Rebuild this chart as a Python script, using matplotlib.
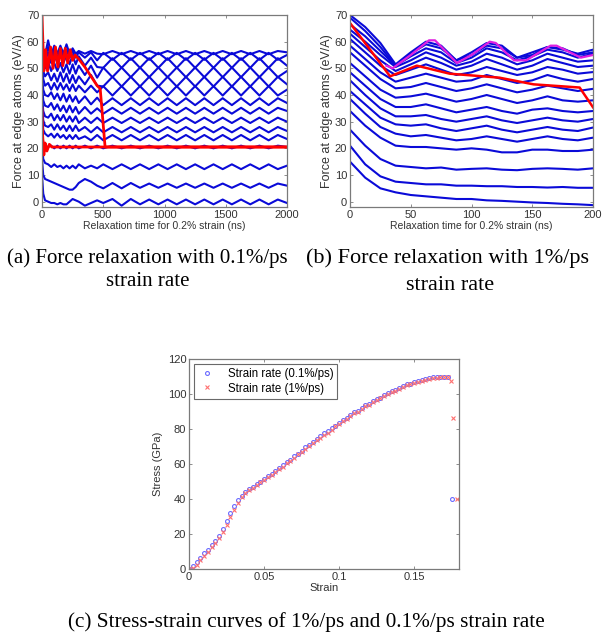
import matplotlib
matplotlib.use("Agg")
import matplotlib.pyplot as plt

# ---------------------------------------------------------------
# (a) force relaxation, 0.1%/ps  -- time in ns
# ---------------------------------------------------------------
t_a = [0, 10, 25, 50, 75, 100, 125, 150, 175, 200, 225, 250, 275, 300, 350, 400, 450,
       500, 575, 650, 725, 800, 875, 950, 1025, 1100, 1175, 1250, 1325, 1400, 1475,
       1550, 1625, 1700, 1775, 1850, 1925, 2000]

a_00 = [10, 3, 0.5, 0, -0.5, -0.5, -1, -0.5, -1, -1, 0, 1, 0.5, 0, -1.5, -0.5, 0.5,
        -0.5, 1, -1.5, 1, -1, 0.8, -1, 0.8, -1, 0.8, -1, 0.8, -1, 0.8, -1, 0.8, -1, 0.8, -1, 0.8, -0.5]
a_06 = [16, 10, 8.5, 8, 7.5, 7, 6.5, 6, 5.5, 5, 4.5, 4.5, 5.5, 7, 8.5, 7.5, 6,
        5, 7, 5, 7, 5.2, 6.8, 5.2, 6.8, 5.2, 6.8, 5.2, 6.8, 5.2, 6.8, 5.2, 6.8, 5.2, 6.8, 5.2, 6.8, 6]
a_13 = [22, 16, 14.5, 14, 13, 14, 13, 13.5, 12.5, 13.5, 12.5, 13.5, 12.5, 14, 12.5, 13.5, 12.5,
        14, 12.2, 14, 12.2, 14, 12.2, 14, 12.2, 14, 12.2, 14, 12.2, 14, 12.2, 14, 12.2, 14, 12.2, 14, 12.2, 13.5]
a_20 = [28, 22, 21, 20.5, 21, 20, 21, 20, 21, 20, 21, 20, 21, 20, 21, 20, 21,
        20, 21, 20, 21, 20, 21, 20, 21, 20, 21, 20, 21, 20, 21, 20, 21, 20, 21, 20, 21, 20.5]
a_24 = [33, 27, 25.5, 24.5, 25.5, 24, 25.5, 24, 25, 23.5, 25, 23.5, 25, 23.5, 24.5, 23, 25,
        23, 25, 23, 25, 23, 25, 23, 25, 23, 25, 23, 25, 23, 25, 23, 25, 23, 25, 23, 25, 23.5]
a_27 = [37, 30.5, 28.5, 28, 29, 27, 29, 27, 28.5, 26.5, 28.5, 26.5, 28.5, 26.5, 28, 26, 28,
        26, 28, 26, 28, 26, 28, 26, 28, 26, 28, 26, 28, 26, 28, 26, 28, 26, 28, 26, 28, 26.5]
a_30 = [40, 34, 32, 31.5, 33, 30.5, 32.5, 30.5, 32.5, 30, 32, 30, 32, 29.5, 31.5, 29.5, 31.5,
        29.5, 31.5, 29.5, 31.5, 29.5, 31.5, 29.5, 31.5, 29.5, 31.5, 29.5, 31.5, 29.5, 31.5,
        29.5, 31.5, 29.5, 31.5, 29.5, 31.5, 30]
a_34 = [44, 38, 36, 35.5, 37, 34.5, 36.5, 34, 36, 33.5, 36, 33.5, 35.5, 33, 35.5, 33, 35,
        33, 35.2, 33, 35.2, 33, 35.2, 33, 35.2, 33, 35.2, 33, 35.2, 33, 35.2, 33, 35.2, 33, 35.2, 33, 35.2, 34]
a_37 = [47, 42, 40, 39.5, 41, 38.5, 40.5, 38, 40.5, 37.5, 40, 37.5, 39.5, 37, 39.5, 36.5, 39,
        36.2, 38.8, 36.2, 38.8, 36.2, 38.8, 36.2, 38.8, 36.2, 38.8, 36.2, 38.8, 36.2, 38.8,
        36.2, 38.8, 36.2, 38.8, 36.2, 38.8, 37]
a_41 = [51, 46, 43.5, 44.5, 42, 44.5, 42, 44.5, 42, 44, 41.5, 44, 41.5, 43.5, 41, 43.5, 41,
        43.3, 39.8, 43.3, 39.8, 43.3, 39.8, 43.3, 39.8, 43.3, 39.8, 43.3, 39.8, 43.3, 39.8,
        43.3, 39.8, 43.3, 39.8, 43.3, 39.8, 42]
a_45 = [53, 49, 47, 48.5, 45.5, 48, 45, 48.5, 45, 48, 44.5, 47.5, 44.5, 47, 44, 47.5, 43.5,
        43.2, 46.8, 43.2, 46.8, 43.2, 46.8, 43.2, 46.8, 43.2, 46.8, 43.2, 46.8, 43.2, 46.8,
        43.2, 46.8, 43.2, 46.8, 43.2, 46.8, 44]
a_48 = [54, 52, 50, 52.5, 49, 52, 49, 52, 48.5, 51.5, 48, 51.5, 48, 51, 47.5, 51, 46.5,
        50.3, 46.7, 50.3, 46.7, 50.3, 46.7, 50.3, 46.7, 50.3, 46.7, 50.3, 46.7, 50.3, 46.7,
        50.3, 46.7, 50.3, 46.7, 50.3, 46.7, 49]
a_52 = [55, 54, 52.5, 56, 52, 55.5, 52, 55.5, 52, 55, 51.5, 55, 51.5, 54.5, 51, 54, 50.5,
        50.2, 53.8, 50.2, 53.8, 50.2, 53.8, 50.2, 53.8, 50.2, 53.8, 50.2, 53.8, 50.2, 53.8,
        50.2, 53.8, 50.2, 53.8, 50.2, 53.8, 51]
a_54 = [56, 55, 54, 58, 53.5, 57, 54, 57, 54, 57, 54, 56.5, 54, 56, 54, 56, 53,
        55.8, 53.2, 55.8, 53.2, 55.8, 53.2, 55.8, 53.2, 55.8, 53.2, 55.8, 53.2, 55.8, 53.2,
        55.8, 53.2, 55.8, 53.2, 55.8, 53.2, 55]
a_56 = [57, 56, 55, 60.5, 55, 58.5, 55.5, 58.5, 55.5, 59, 55.5, 57.5, 55.5, 56.5, 55.5, 56.5, 55.5,
        55.3, 56.5, 55.3, 56.5, 55.3, 56.5, 55.3, 56.5, 55.3, 56.5, 55.3, 56.5, 55.3, 56.5,
        55.3, 56.5, 55.3, 56.5, 55.3, 56.5, 56]

red_a1_t = [0, 15, 30, 45, 70, 90, 110, 130, 150, 170, 190, 210, 230, 250, 270, 300, 350, 400, 450, 475, 515, 2000]
red_a1_y = [70, 49, 57, 49, 58, 50, 58, 50.5, 57.5, 51, 57.5, 52, 57, 53, 55, 53.5, 50.5, 47, 43.5, 42.4, 20.5, 20.5]
red_a2_t = [0, 5, 15, 25, 40, 60, 80, 2000]
red_a2_y = [35, 25, 17.5, 22, 19, 21.5, 20.5, 20.5]

# ---------------------------------------------------------------
# (b) force relaxation, 1%/ps
# ---------------------------------------------------------------
t_b = [0, 12.5, 25, 37.5, 50, 62.5, 75, 87.5, 100, 112.5, 125, 137.5, 150, 162.5, 175, 187.5, 200]

b_00 = [15, 9, 5, 3.5, 2.5, 2, 1.5, 1, 1, 0.5, 0.3, 0, -0.3, -0.5, -0.8, -1, -1.3]
b_01 = [21, 14, 9.5, 7.5, 7, 6.5, 6.5, 6, 6, 5.8, 5.8, 5.5, 5.5, 5.3, 5.5, 5.2, 5.2]
b_02 = [27, 21, 16, 13.5, 13, 12.5, 12.8, 12, 12.3, 12.5, 12, 11.8, 12.3, 12.5, 12.3, 12, 12.5]
b_03 = [34, 28.5, 24, 21, 20.5, 20.5, 20, 19.5, 20, 19.5, 18.5, 18.5, 19.5, 19.5, 19, 19, 19.5]
b_04 = [38.5, 33, 28, 25.5, 24.5, 25, 24, 23, 23.5, 24.5, 23.5, 22.5, 23.5, 24.5, 23.5, 23, 24]
b_05 = [41.5, 36.5, 31.5, 29, 28.5, 29, 27.5, 26.5, 27.5, 28.5, 27, 26, 27, 28, 27, 26.5, 27.8]
b_06 = [45.5, 40, 35, 32, 32, 32.5, 31, 30, 31, 32, 30.5, 29.5, 30.5, 31.5, 30.5, 30, 31]
b_07 = [48.5, 43.5, 38.5, 35.5, 35.5, 36.5, 35, 33.5, 34.5, 35.5, 34, 33, 34.5, 35, 34, 33.5, 34]
b_08 = [52, 47, 42, 39, 39.5, 40.5, 39, 37.5, 38.5, 40, 38.5, 37, 38, 39.5, 38, 37.5, 38]
b_09 = [56, 51, 46, 42.5, 43, 44.5, 43, 41.5, 42.5, 44, 42.5, 41, 42, 43.5, 42.5, 41.5, 42.3]
b_10 = [58.5, 53.5, 48.5, 45, 46.5, 48, 46.5, 45, 45.5, 47.5, 46, 44.5, 45.5, 47.5, 46, 45, 46]
b_11 = [61, 56, 51, 47.5, 49.5, 51.5, 49.5, 47.5, 48.5, 50.5, 49, 47.5, 48.5, 50.5, 49.5, 48, 48.6]
b_12 = [63, 58, 53, 49, 51.5, 54, 52, 49.5, 51, 53.5, 51.5, 49.5, 51, 53.5, 52, 50.5, 51]
b_13 = [64.5, 60, 55, 50.5, 53, 56, 54, 51, 52.5, 55.5, 54, 51.5, 53, 55.5, 54, 52.5, 53]
b_14 = [66.5, 62, 56.5, 51, 54.5, 57.5, 56, 52, 54, 57.5, 56, 53, 54.5, 57, 56, 54, 55.5]
b_15 = [69, 64, 58, 51, 55.5, 59, 57.5, 53, 55, 58.5, 57.5, 54, 55, 58, 57, 55.5, 57]
b_16 = [70, 65.5, 59.5, 51.5, 56, 60, 58.5, 53, 56, 59.5, 58.5, 54, 56, 58, 57.5, 55, 56]

mag_b_t = [30, 35, 50, 65, 70, 88, 100, 115, 120, 135, 145, 165, 170, 190, 200]
mag_b_y = [51, 50, 55, 60.5, 60.5, 52, 55, 60, 59.5, 53, 53, 58.5, 58.5, 54, 55]
red_b_t = [0, 33, 55, 82, 123, 151, 189, 200]
red_b_y = [67, 47, 51, 48, 46.5, 44, 42.8, 35.4]

# ---------------------------------------------------------------
# (c) stress-strain
# ---------------------------------------------------------------
strain_c = [0.0000, 0.0025, 0.0050, 0.0075, 0.0100, 0.0125, 0.0150, 0.0175, 0.0200, 0.0225,
            0.0250, 0.0275, 0.0300, 0.0325, 0.0350, 0.0375, 0.0400, 0.0425, 0.0450, 0.0475,
            0.0500, 0.0525, 0.0550, 0.0575, 0.0600, 0.0625, 0.0650, 0.0675, 0.0700, 0.0725,
            0.0750, 0.0775, 0.0800, 0.0825, 0.0850, 0.0875, 0.0900, 0.0925, 0.0950, 0.0975,
            0.1000, 0.1025, 0.1050, 0.1075, 0.1100, 0.1125, 0.1150, 0.1175, 0.1200, 0.1225,
            0.1250, 0.1275, 0.1300, 0.1325, 0.1350, 0.1375, 0.1400, 0.1425, 0.1450, 0.1475,
            0.1500, 0.1525, 0.1550, 0.1575, 0.1600, 0.1625, 0.1650, 0.1675, 0.1700, 0.1725]
stress_slow = [0, 1.5, 4, 6.5, 9, 11, 13.5, 16, 19, 23,
               27.5, 32, 36, 39.5, 42, 44, 45.5, 47, 48.5, 50,
               51.5, 53, 54.5, 56, 57.5, 59.5, 61, 62.5, 64.5, 66,
               67.5, 69.5, 71, 72.5, 74.5, 76, 77.5, 79, 80.5, 82,
               83.5, 85, 86.5, 88, 89.5, 90.5, 92, 93.5, 94.5, 96,
               97, 98, 99.5, 100.5, 101.5, 102.5, 103.5, 104.5, 105.5, 106,
               107, 107.5, 108, 108.5, 109, 109.5, 109.5, 110, 110, 110]
stress_fast = [0, 0.5, 2.5, 5, 7.5, 10, 12.5, 15, 17.5, 21,
               25, 29.5, 34, 38, 41, 43.5, 45, 46.5, 48, 49.5,
               51, 52.5, 54, 55.5, 57, 58.5, 60.5, 62, 63.5, 65.5,
               67, 68.5, 70.5, 72, 73.5, 75, 76.5, 78, 79.5, 81.5,
               83, 84.5, 86, 87.5, 89, 90, 91.5, 93, 94, 95.5,
               96.5, 97.5, 99, 100, 101, 102, 103, 104, 105, 105.5,
               106.5, 107, 107.5, 108, 108.5, 109, 109, 109.5, 109.5, 109.5]
# failure points after the peak
tail_slow_x = [0.175]
tail_slow_y = [40]
tail_fast_x = [0.1745, 0.176, 0.1785]
tail_fast_y = [107.5, 86.5, 40]

curves_a = [a_00, a_06, a_13, a_20, a_24, a_27, a_30, a_34, a_37, a_41, a_45, a_48, a_52, a_54, a_56]
curves_b = [b_00, b_01, b_02, b_03, b_04, b_05, b_06, b_07, b_08, b_09, b_10, b_11, b_12, b_13, b_14, b_15, b_16]

plt.rcParams['font.family'] = ['Liberation Sans', 'DejaVu Sans']
W, H = 603, 635
fig = plt.figure(figsize=(W / 100, H / 100), dpi=100)
BLUE = '#0a0ad8'
GREY = '#7a7a7a'
LBL = '#333333'


def style_axes(ax):
    for s in ax.spines.values():
        s.set_color(GREY)
        s.set_linewidth(0.9)
    ax.tick_params(direction='in', top=True, right=True, length=2.5, width=0.6,
                   colors=GREY, labelcolor=LBL, labelsize=8, pad=2)


# panel (a)
ax1 = fig.add_axes([42 / W, 1 - 207 / H, 245 / W, 192 / H])
for y in curves_a:
    ax1.plot(t_a, y, color=BLUE, lw=1.5)
ax1.plot(red_a2_t, red_a2_y, color='red', lw=2)
ax1.plot(red_a1_t, red_a1_y, color='red', lw=2)
ax1.set_xlim(0, 2000)
ax1.set_ylim(-2, 70)
ax1.set_xticks([0, 500, 1000, 1500, 2000])
ax1.set_yticks([0, 10, 20, 30, 40, 50, 60, 70])
ax1.set_xlabel('Relaxation time for 0.2% strain (ns)', fontsize=7.5, color=LBL, labelpad=1)
ax1.set_ylabel('Force at edge atoms (eV/A)', fontsize=9, color=LBL, labelpad=1)
style_axes(ax1)

# panel (b)
ax2 = fig.add_axes([350 / W, 1 - 207 / H, 243 / W, 192 / H])
for y in curves_b:
    ax2.plot(t_b, y, color=BLUE, lw=1.5)
ax2.plot(mag_b_t, mag_b_y, color='#e020e0', lw=1.6)
ax2.plot(red_b_t, red_b_y, color='red', lw=1.8)
ax2.set_xlim(0, 200)
ax2.set_ylim(-2, 70)
ax2.set_xticks([0, 50, 100, 150, 200])
ax2.set_yticks([0, 10, 20, 30, 40, 50, 60, 70])
ax2.set_xlabel('Relaxation time for 0.2% strain (ns)', fontsize=7.5, color=LBL, labelpad=1)
ax2.set_ylabel('Force at edge atoms (eV/A)', fontsize=9, color=LBL, labelpad=1)
style_axes(ax2)

# panel (c)
ax3 = fig.add_axes([189 / W, 1 - 569 / H, 270 / W, 210 / H])
ax3.plot(strain_c + tail_slow_x, stress_slow + tail_slow_y, 'o', ms=2.8, mfc='none',
         mec='#6a6aff', mew=0.8, label='Strain rate (0.1%/ps)')
ax3.plot(strain_c + tail_fast_x, stress_fast + tail_fast_y, 'x', ms=2.8, color='#ff7070',
         mew=0.8, label='Strain rate (1%/ps)')
ax3.set_xlim(0, 0.18)
ax3.set_ylim(0, 120)
ax3.set_xticks([0, 0.05, 0.1, 0.15])
ax3.set_xticklabels(['0', '0.05', '0.1', '0.15'])
ax3.set_yticks([0, 20, 40, 60, 80, 100, 120])
ax3.set_xlabel('Strain', fontsize=8, color=LBL, labelpad=1)
ax3.set_ylabel('Stress (GPa)', fontsize=8, color=LBL, labelpad=3)
style_axes(ax3)
leg = ax3.legend(loc='upper left', fontsize=8.3, frameon=True, fancybox=False,
                 borderaxespad=0.4, handlelength=1.6, handletextpad=1.0, borderpad=0.35,
                 labelspacing=0.25)
leg.get_frame().set_edgecolor('#444444')
leg.get_frame().set_linewidth(0.8)

# captions
cap = dict(family=['Liberation Serif', 'DejaVu Serif'], ha='center', va='center')
fig.text(147 / W, 1 - 258 / H, '(a) Force relaxation with 0.1%/ps', fontsize=15, **cap)
fig.text(148 / W, 1 - 282 / H, 'strain rate', fontsize=15, **cap)
fig.text(448 / W, 1 - 258 / H, '(b) Force relaxation with 1%/ps', fontsize=16, **cap)
fig.text(450 / W, 1 - 285 / H, 'strain rate', fontsize=16, **cap)
fig.text(306 / W, 1 - 622 / H, '(c) Stress-strain curves of 1%/ps and 0.1%/ps strain rate',
         fontsize=15.3, **cap)

fig.savefig('out.png', dpi=100)
